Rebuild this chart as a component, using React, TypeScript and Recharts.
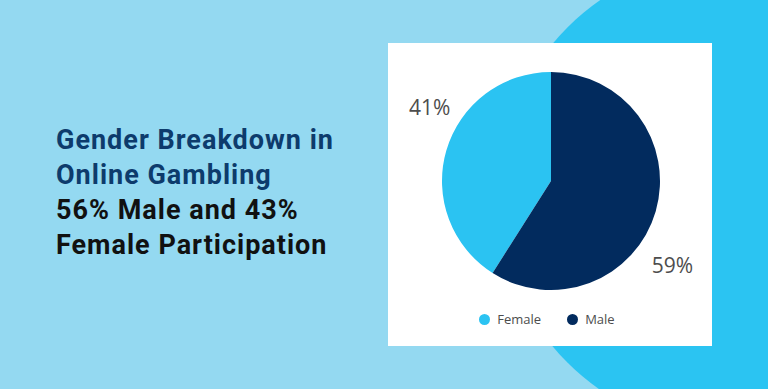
import React from 'react';
import { PieChart, Pie, Cell, Legend } from 'recharts';

const categories = ['Female', 'Male'];
const shares = [41, 59];
const colors = ['#2bc3f2', '#022b5e'];
const titleLines = ['Gender Breakdown in', 'Online Gambling'];
const subtitleLines = ['56% Male and 43%', 'Female Participation'];

const data = categories.map((name, i) => ({ name, value: shares[i] }));

const RAD = Math.PI / 180;

const renderLabel = (props: any) => {
  const { cx, cy, midAngle, outerRadius, value } = props;
  const a = (midAngle - 17) * RAD;
  const r = outerRadius + 36;
  const x = cx + r * Math.cos(a);
  const y = cy - r * Math.sin(a) + 5;
  return (
    <text x={x} y={y} textAnchor="middle" dominantBaseline="central" fill="#4d4d4d" fontSize={21} fontFamily="Open Sans">
      {`${value}%`}
    </text>
  );
};

export default function App() {
  return (
    <div style={{ position: 'fixed', left: 0, top: 0, width: 768, height: 389, background: '#94d9f1', overflow: 'hidden', fontFamily: 'Roboto' }}>
      <div style={{ position: 'absolute', left: 498, top: -42, width: 474, height: 474, borderRadius: '50%', background: '#2bc4f2' }} />
      <div style={{ position: 'absolute', left: 56, top: 123, fontSize: 27, fontWeight: 700, lineHeight: '35px', letterSpacing: 1, whiteSpace: 'nowrap' }}>
        {titleLines.map((t) => (
          <div key={t} style={{ color: '#0d3b6c' }}>{t}</div>
        ))}
        {subtitleLines.map((t) => (
          <div key={t} style={{ color: '#111' }}>{t}</div>
        ))}
      </div>
      <div style={{ position: 'absolute', left: 388, top: 43, width: 324, height: 303, background: '#fff' }}>
        <PieChart width={324} height={303} margin={{ top: 0, left: 0, right: 0, bottom: 0 }}>
          <Pie
            data={data}
            dataKey="value"
            nameKey="name"
            cx={163}
            cy={138}
            outerRadius={109}
            startAngle={90}
            endAngle={450}
            stroke="none"
            label={renderLabel}
            labelLine={false}
            isAnimationActive={false}
          >
            {data.map((d, i) => (
              <Cell key={d.name} fill={colors[i]} />
            ))}
          </Pie>
          <Legend
            layout="horizontal"
            verticalAlign="bottom"
            align="center"
            iconType="circle"
            iconSize={11}
            wrapperStyle={{ bottom: 18, left: 10, width: 324 }}
            formatter={(v: string) => <span style={{ color: '#4d4d4d', fontSize: 13, fontFamily: 'Open Sans', marginLeft: 3, marginRight: 16 }}>{v}</span>}
          />
        </PieChart>
      </div>
    </div>
  );
}
